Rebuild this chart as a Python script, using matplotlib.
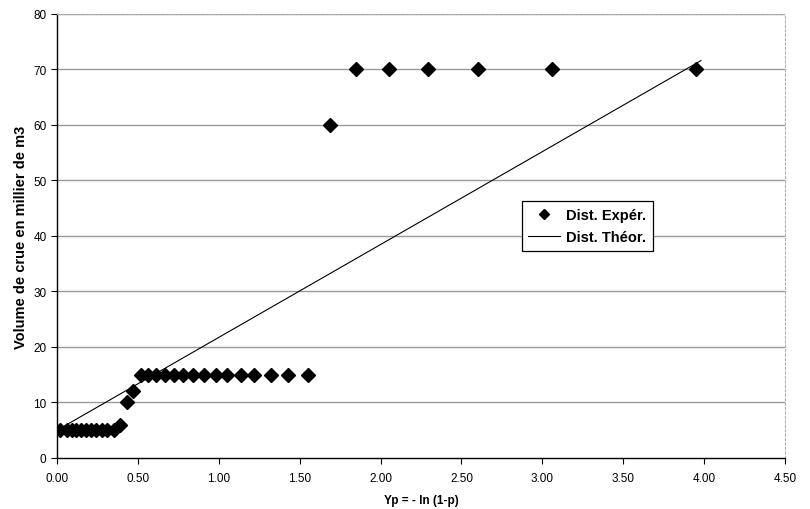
import matplotlib
matplotlib.use("Agg")
import matplotlib.pyplot as plt
from matplotlib.ticker import FormatStrFormatter

plt.rcParams['font.family'] = ['Liberation Sans', 'DejaVu Sans']

exp_x = [0.02, 0.06, 0.09, 0.12, 0.15, 0.18, 0.21, 0.24, 0.28, 0.31, 0.35,
         0.39, 0.43, 0.47,
         0.52, 0.56, 0.61, 0.67, 0.72, 0.78, 0.84, 0.91, 0.98, 1.05, 1.14,
         1.22, 1.32, 1.43, 1.55,
         1.69,
         1.85, 2.05, 2.29, 2.60, 3.06, 3.95]
exp_y = [5, 5, 5, 5, 5, 5, 5, 5, 5, 5, 5,
         6, 10, 12,
         15, 15, 15, 15, 15, 15, 15, 15, 15, 15, 15,
         15, 15, 15, 15,
         60,
         70, 70, 70, 70, 70, 70]

# Theoretical distribution (straight line)
theo_x = [0.0, 3.98]
theo_y = [5.0, 71.6]

x_ticks = [0.0, 0.5, 1.0, 1.5, 2.0, 2.5, 3.0, 3.5, 4.0, 4.5]
y_ticks = [0, 10, 20, 30, 40, 50, 60, 70, 80]

fig = plt.figure(figsize=(8.1, 5.1), dpi=100)
ax = fig.add_axes([0.0704, 0.1, 0.8988, 0.8706])

for yv in y_ticks[1:]:
    ax.axhline(yv, color='#9a9a9a', lw=1.0, zorder=1)

ax.plot(theo_x, theo_y, color='black', lw=0.8, zorder=2, label='Dist. Théor.')
ax.plot(exp_x, exp_y, linestyle='none', marker='D', markersize=6.8,
        color='black', zorder=3, label='Dist. Expér.')

ax.set_xlim(0, 4.5)
ax.set_ylim(0, 80)
ax.set_xticks(x_ticks)
ax.set_yticks(y_ticks)
ax.xaxis.set_major_formatter(FormatStrFormatter('%.2f'))
ax.tick_params(axis='both', labelsize=8.5, direction='out', length=4,
               width=0.8, colors='black')
ax.tick_params(axis='x', pad=6)

for s in ['top', 'right']:
    ax.spines[s].set_color('#b0b0b0')
    ax.spines[s].set_linewidth(0.8)
    ax.spines[s].set_linestyle((0, (2, 2)))
for s in ['left', 'bottom']:
    ax.spines[s].set_color('black')
    ax.spines[s].set_linewidth(1.0)

ax.set_xlabel('Yp = - ln (1-p)', fontsize=8.5, fontweight='bold', labelpad=7)
ax.set_ylabel('Volume de crue en millier de m3', fontsize=10.5,
              fontweight='bold', labelpad=4)

handles, labels = ax.get_legend_handles_labels()
leg = ax.legend(handles[::-1], labels[::-1], loc='upper left',
                bbox_to_anchor=(0.638, 0.578),
                prop={'weight': 'bold', 'size': 10.5},
                frameon=True, fancybox=False, framealpha=1,
                edgecolor='black', borderpad=0.45, handlelength=2.2,
                handletextpad=0.4, labelspacing=0.55, borderaxespad=0,
                markerscale=0.8)
leg.get_frame().set_linewidth(0.9)

fig.savefig('out.png', dpi=100)
